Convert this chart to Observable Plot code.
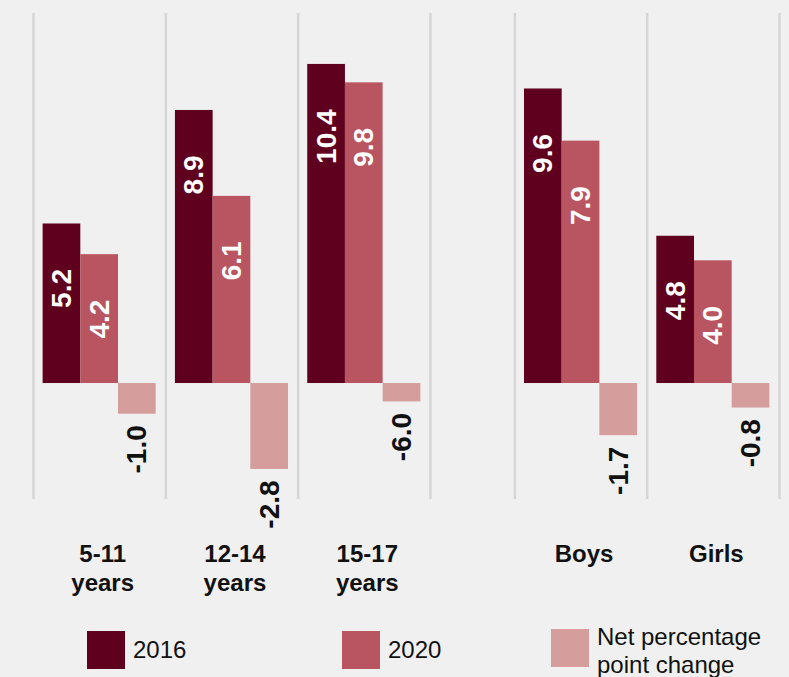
<!DOCTYPE html>
<html>
<head>
<meta charset="utf-8">
<script src="https://cdn.jsdelivr.net/npm/d3@7"></script>
<script src="https://cdn.jsdelivr.net/npm/@observablehq/plot@0.6"></script>
<style>
  html, body { margin: 0; padding: 0; background: #f0f0f0; }
  body { width: 789px; height: 677px; overflow: hidden; font-family: "Liberation Sans", Arial, Helvetica, sans-serif; }
  #legend { position: relative; width: 789px; height: 77px; }
  .item { position: absolute; display: flex; align-items: center; font-size: 24px; line-height: 1.15; color: #111; }
  .item .sw { width: 38px; height: 38px; margin-right: 8px; flex: none; }
  .item.multi { align-items: flex-start; }
  .item.multi span { margin-top: -6px; }
</style>
</head>
<body>
<div id="chart"></div>
<div id="legend"></div>
<script>
// ---- data ----
const groups = ["5-11\nyears", "12-14\nyears", "15-17\nyears", "Boys", "Girls"];
const series = ["2016", "2020", "Net percentage\npoint change"];
const colors = ["#5f001e", "#b85560", "#d59e9d"];
const v2016 = [5.2, 8.9, 10.4, 9.6, 4.8];
const v2020 = [4.2, 6.1, 9.8, 7.9, 4.0];
const vNet = [-1.0, -2.8, -0.6, -1.7, -0.8];
const netLabels = ["-1.0", "-2.8", "-6.0", "-1.7", "-0.8"];

// ---- layout in x units (one bar = 1 unit) ----
const pad = 0.255;
const slotW = 3 + 2 * pad;
const gapW = 2.24;
const slotStart = g => g < 3 ? g * slotW : 3 * slotW + gapW + (g - 3) * slotW;
const total = slotStart(groups.length);
const boundaries = [0, slotW, 2 * slotW, 3 * slotW, 3 * slotW + gapW, 4 * slotW + gapW, total];

const valuesBySeries = [v2016, v2020, vNet];
const rows = [];
groups.forEach((g, gi) => {
  valuesBySeries.forEach((vals, si) => {
    const x1 = slotStart(gi) + pad + si;
    const v = vals[gi];
    rows.push({
      group: g, series: series[si], value: v, x1, x2: x1 + 1, xc: x1 + 0.5,
      label: si === 2 ? netLabels[gi] : v.toFixed(1), neg: v < 0
    });
  });
});
const groupRows = groups.map((g, gi) => ({name: g, xc: slotStart(gi) + slotW / 2}));

const font = '"Liberation Sans", Arial, Helvetica, sans-serif';

const chart = Plot.plot({
  width: 789,
  height: 600,
  marginLeft: 33,
  marginRight: 10,
  marginTop: 13,
  marginBottom: 101,
  style: {background: "transparent", fontFamily: font},
  x: {type: "linear", domain: [0, total], axis: null},
  y: {domain: [-3.78, 12.06], axis: null},
  color: {domain: series, range: colors},
  marks: [
    Plot.ruleX(boundaries, {stroke: "#d6d6d6", strokeWidth: 2.5}),
    Plot.rectY(rows, {x1: "x1", x2: "x2", y: "value", fill: "series"}),
    Plot.text(rows.filter(d => !d.neg), {
      x: "xc", y: "value", text: "label", rotate: -90, textAnchor: "end",
      dy: 45, fill: "white", fontWeight: "bold", fontSize: 28
    }),
    Plot.text(rows.filter(d => d.neg), {
      x: "xc", y: "value", text: "label", rotate: -90, textAnchor: "end",
      dy: 11, fill: "#111", fontWeight: "bold", fontSize: 28
    }),
    Plot.text(groupRows, {
      x: "xc", text: "name", frameAnchor: "bottom", lineAnchor: "top",
      dy: 42, dx: 3, fontSize: 24, fontWeight: "bold", fill: "#111", lineHeight: 1.2
    })
  ]
});
document.getElementById("chart").appendChild(chart);

// ---- legend ----
const legend = document.getElementById("legend");
const lefts = [87, 342, 551];
const tops = [31, 31, 29];
series.forEach((s, i) => {
  const item = document.createElement("div");
  item.className = "item" + (s.includes("\n") ? " multi" : "");
  item.style.left = lefts[i] + "px";
  item.style.top = tops[i] + "px";
  const sw = document.createElement("div");
  sw.className = "sw";
  sw.style.background = colors[i];
  const t = document.createElement("span");
  t.innerHTML = s.split("\n").join("<br>");
  item.appendChild(sw);
  item.appendChild(t);
  legend.appendChild(item);
});
</script>
</body>
</html>
